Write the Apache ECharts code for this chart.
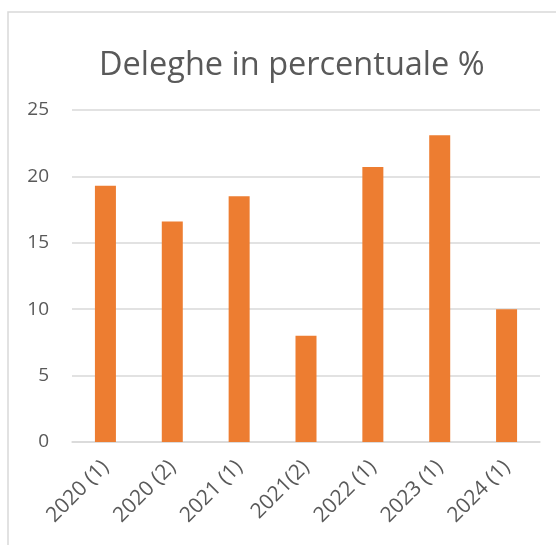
<!DOCTYPE html>
<html>
<head>
<meta charset="utf-8">
<script src="https://cdn.jsdelivr.net/npm/echarts@6/dist/echarts.min.js"></script>
<style>
  html, body { margin: 0; padding: 0; background: #fff; }
  #main { width: 556px; height: 545px; }
</style>
</head>
<body>
<div id="main"></div>
<script>
// dati
var categories = ['2020 (1)', '2020 (2)', '2021 (1)', '2021(2)', '2022 (1)', '2023 (1)', '2024 (1)'];
var percentuali = [19.3, 16.6, 18.5, 8.0, 20.7, 23.1, 10.0];

var chartDom = document.getElementById('main');
var myChart = echarts.init(chartDom);
var option;

option = {
    animation: false,
    textStyle: { fontFamily: 'Open Sans' },
    title: {
        text: 'Deleghe in percentuale %',
        left: 94,
        top: 44,
        textStyle: {
            fontSize: 32.5,
            fontWeight: 'normal',
            color: '#595959',
            fontFamily: 'Open Sans'
        }
    },
    graphic: [
        {
            type: 'rect',
            shape: { x: 8, y: 12, width: 700, height: 700 },
            style: { fill: 'none', stroke: '#d9d9d9', lineWidth: 1.5 },
            silent: true
        }
    ],
    grid: {
        left: 72,
        right: 16,
        top: 110,
        bottom: 103
    },
    xAxis: {
        type: 'category',
        data: categories,
        axisLine: { lineStyle: { color: '#d9d9d9', width: 1.5 } },
        axisTick: { show: false },
        axisLabel: {
            rotate: 45,
            interval: 0,
            margin: 22,
            fontSize: 21,
            color: '#595959'
        }
    },
    yAxis: {
        type: 'value',
        min: 0,
        max: 25,
        interval: 5,
        axisLine: { show: false },
        axisTick: { show: false },
        axisLabel: {
            margin: 23,
            fontSize: 19,
            color: '#595959'
        },
        splitLine: { lineStyle: { color: '#d9d9d9', width: 1.5 } }
    },
    series: [
        {
            name: 'Deleghe',
            type: 'bar',
            barWidth: 21,
            itemStyle: { color: '#ed7d31' },
            data: percentuali
        }
    ]
};

option && myChart.setOption(option);
</script>
</body>
</html>
